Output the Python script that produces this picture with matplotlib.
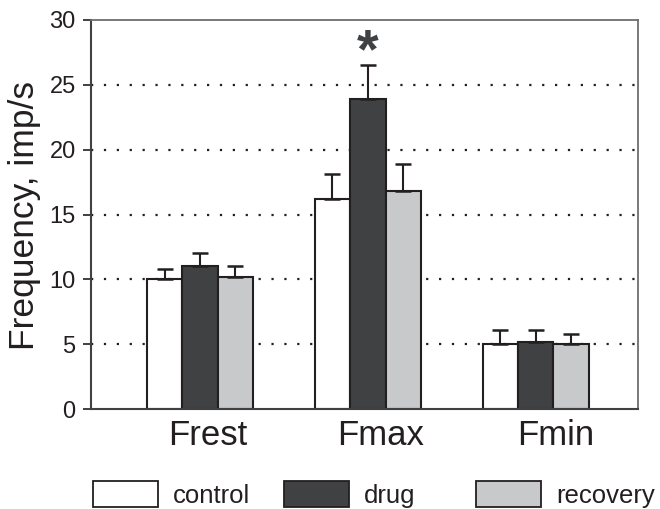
import numpy as np
import matplotlib.pyplot as plt
from matplotlib.patches import Rectangle

plt.rcParams['font.family'] = ['Liberation Sans', 'DejaVu Sans']

# data
groups = ['Frest', 'Fmax', 'Fmin']
series = ['control', 'drug', 'recovery']
control = [10.0, 16.2, 5.0]
drug = [11.0, 23.9, 5.2]
recovery = [10.2, 16.8, 5.0]
control_err = [0.8, 1.9, 1.1]
drug_err = [1.0, 2.6, 0.9]
recovery_err = [0.8, 2.1, 0.8]
sig_group = 1  # Fmax, drug

values = [control, drug, recovery]
errors = [control_err, drug_err, recovery_err]
colors = ['#ffffff', '#404143', '#c8c9cb']
edge = '#231f20'

fig = plt.figure(figsize=(6.6, 5.09), dpi=100)
ax = fig.add_axes([91/660, 100/509, 547/660, 389/509])

x = np.arange(len(groups))
w = 0.211
offs = [-w, 0, w]

# dotted grid behind the bars
for yv in [5, 10, 15, 20, 25]:
    ax.axhline(yv, color=edge, lw=1.6, ls=(0, (1, 4.8)), zorder=0)

for i in range(3):
    ax.bar(x + offs[i], values[i], w, color=colors[i], edgecolor=edge,
           linewidth=1.5, zorder=2)
    ax.errorbar(x + offs[i], values[i],
                yerr=[np.zeros(3), errors[i]], fmt='none', ecolor=edge,
                elinewidth=1.5, capsize=5.5, capthick=1.8, zorder=3)

# significance star
ax.text(x[sig_group], drug[sig_group] + drug_err[sig_group] - 0.15, '*',
        ha='center', va='baseline', fontsize=40, fontweight='bold',
        color='#404143', zorder=4)

ax.set_xlim(-0.65, 2.61)
ax.set_ylim(0, 30)
ax.set_yticks([0, 5, 10, 15, 20, 25, 30])
ax.tick_params(axis='y', labelsize=17, length=6, width=1.2, pad=5,
               colors=edge)
label_shift = [0.048, 0.077, 0.119]
ax.set_xticks(x + np.array(label_shift))
ax.set_xticklabels(groups)
ax.tick_params(axis='x', labelsize=25, length=0, pad=7, colors=edge)
for s in ['top', 'right']:
    ax.spines[s].set_color('#6d6e70')
    ax.spines[s].set_linewidth(1.3)
for s in ['left', 'bottom']:
    ax.spines[s].set_color('#414042')
    ax.spines[s].set_linewidth(1.5)

fig.text(25/660, 1 - 215/509, 'Frequency, imp/s', rotation=90,
         ha='center', va='center', fontsize=25.5, color=edge)

# legend drawn by hand
patch_x = [93, 284, 476]
for i in range(3):
    fig.add_artist(Rectangle((patch_x[i]/660, 2/509), 65/660, 26/509,
                             transform=fig.transFigure, facecolor=colors[i],
                             edgecolor=edge, linewidth=1.3))
    fig.text((patch_x[i] + 80)/660, 1 - 503/509, series[i], fontsize=18.5,
             ha='left', va='baseline', color=edge)

fig.savefig('out.png', dpi=100)
